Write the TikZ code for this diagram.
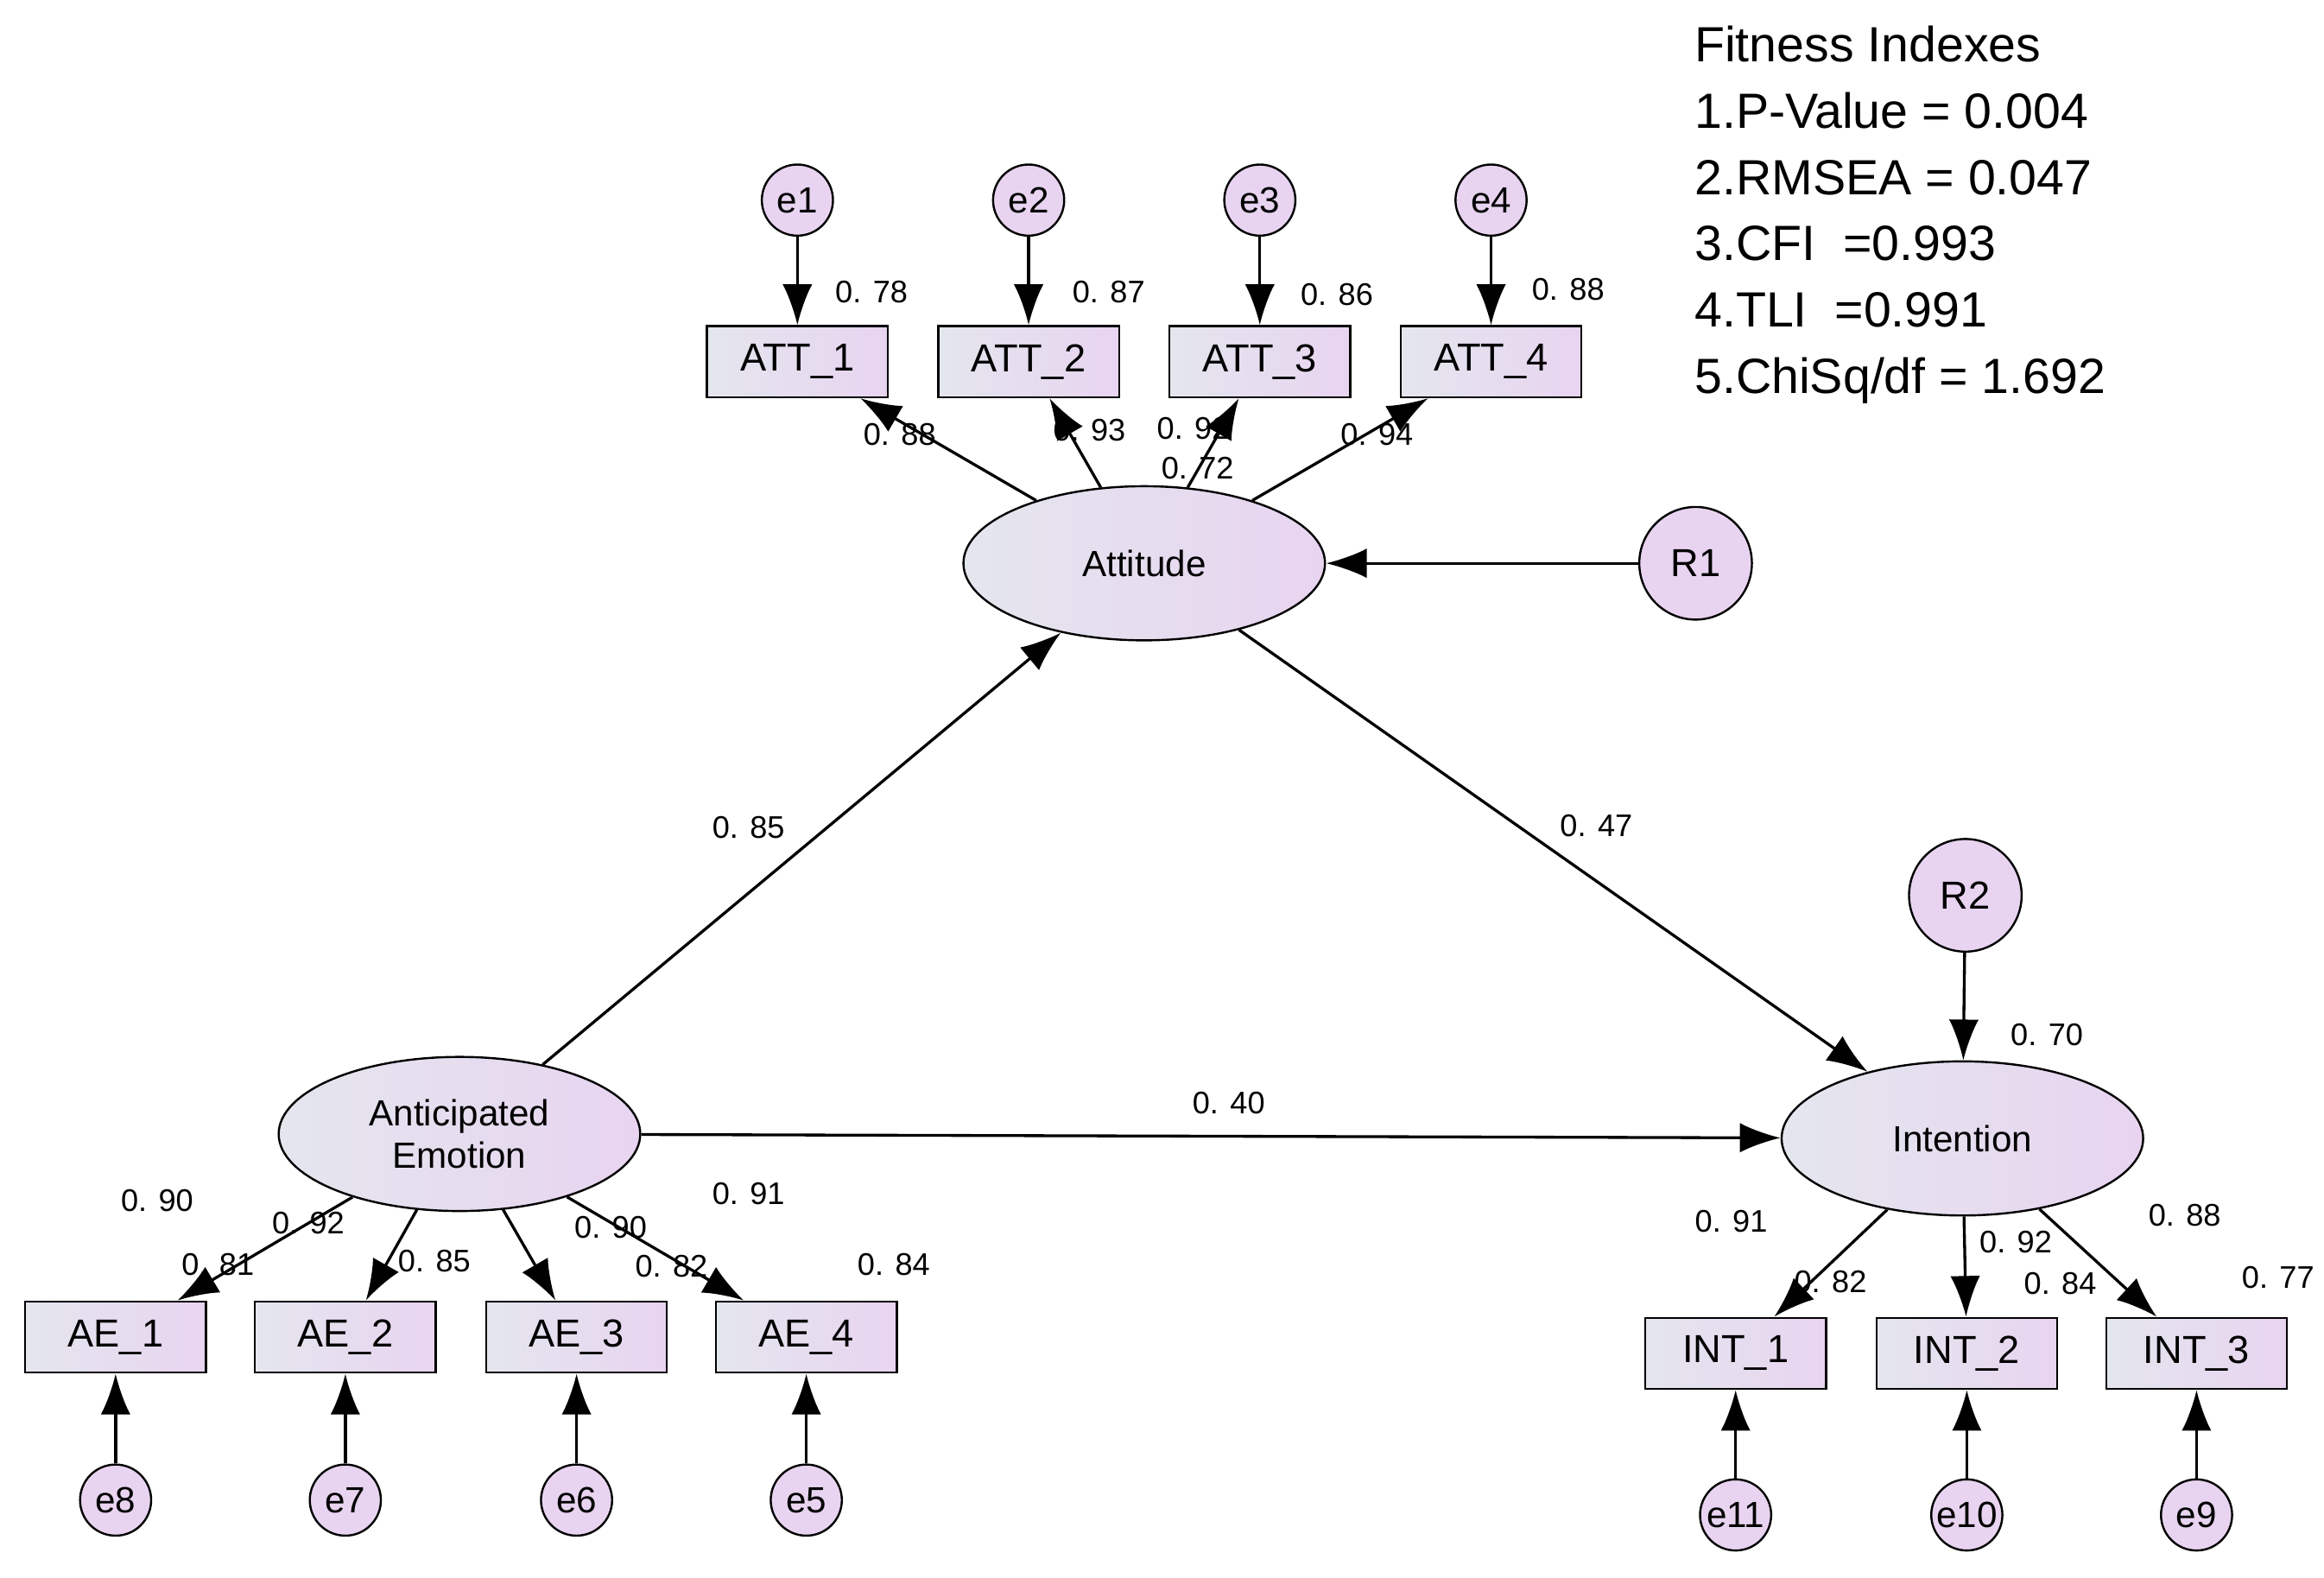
\documentclass[tikz,border=0pt]{standalone}
\usepackage{fontspec}
\setmainfont{Liberation Sans}
\usetikzlibrary{arrows.meta,shapes.geometric}
\definecolor{lav}{HTML}{E8D4F0}
\definecolor{gry}{HTML}{E4E6EE}
\begin{document}
\begin{tikzpicture}[x=0.02cm,y=-0.02cm,
 lat/.style={ellipse,draw,thick,left color=gry,right color=lav,minimum width=4.88cm,minimum height=2.08cm,font=\fontsize{14}{16}\selectfont,align=center},
 box/.style={rectangle,draw,thick,left color=gry,right color=lav,minimum width=2.44cm,minimum height=0.96cm,font=\fontsize{15}{17}\selectfont},
 err/.style={circle,draw,thick,fill=lav,minimum size=0.96cm,inner sep=0pt,font=\fontsize{14}{16}\selectfont},
 res/.style={circle,draw,thick,fill=lav,minimum size=1.52cm,inner sep=0pt,font=\fontsize{15}{17}\selectfont},
 lb/.style={font=\fontsize{12}{14}\selectfont},
 ar/.style={-{Latex[length=0.55cm,width=0.4cm]},line width=1.1pt}]
\useasboundingbox (0,0) rectangle (1568,1064);
\node[lat] (att) at (772,380) {Attitude};
\node[lat] (ae) at (310,765) {Anticipated\\Emotion};
\node[lat] (int) at (1324,768) {Intention};
\node[res] (r1) at (1144,380) {R1};
\node[res] (r2) at (1326,604) {R2};
\foreach \i/\x in {1/538,2/694,3/850,4/1006}{
 \node[box] (att\i) at (\x,244) {ATT\_\i};
 \node[err] (e\i) at (\x,135) {e\i};
 \draw[ar] (e\i) -- (att\i);
 \draw[ar] (att) -- (att\i);}
\foreach \i/\x/\e in {1/78/8,2/233/7,3/389/6,4/544/5}{
 \node[box] (ae\i) at (\x,902) {AE\_\i};
 \node[err] (e\e) at (\x,1012) {e\e};
 \draw[ar] (e\e) -- (ae\i);
 \draw[ar] (ae) -- (ae\i);}
\foreach \i/\x/\e in {1/1171/11,2/1327/10,3/1482/9}{
 \node[box] (int\i) at (\x,913) {INT\_\i};
 \node[err] (e\e) at (\x,1022) {e\e};
 \draw[ar] (e\e) -- (int\i);
 \draw[ar] (int) -- (int\i);}
\draw[ar] (r1) -- (att);
\draw[ar] (r2) -- (int);
\draw[ar] (ae) -- (att);
\draw[ar] (att) -- (int);
\draw[ar] (ae) -- (int);
\foreach \t/\x/\y in {0. 78/588/197,0. 87/748/197,0. 86/902/199,0. 88/1058/195,
 0. 88/607/293,0. 93/735/290,0. 92/805/289,0. 72/808/316,0. 94/929/293,
 0. 85/505/558,0. 47/1077/557,0. 40/829/744,0. 70/1381/698,
 0. 90/106/810,0. 81/147/853,0. 92/208/825,0. 85/293/851,0. 90/412/828,0. 82/453/854,0. 91/505/805,0. 84/603/853,
 0. 91/1168/824,0. 82/1235/865,0. 92/1360/838,0. 84/1390/866,0. 88/1474/820,0. 77/1537/862}
 \node[lb] at (\x,\y) {\t};
\node[anchor=north west,align=left,font=\fontsize{19}{25.5}\selectfont,inner sep=0pt] (fit) at (1143,17)
 {Fitness Indexes\\1.P-Value = 0.004\\2.RMSEA = 0.047\\3.CFI \ =0.993\\4.TLI \ =0.991\\5.ChiSq/df = 1.692};
\end{tikzpicture}
\end{document}
